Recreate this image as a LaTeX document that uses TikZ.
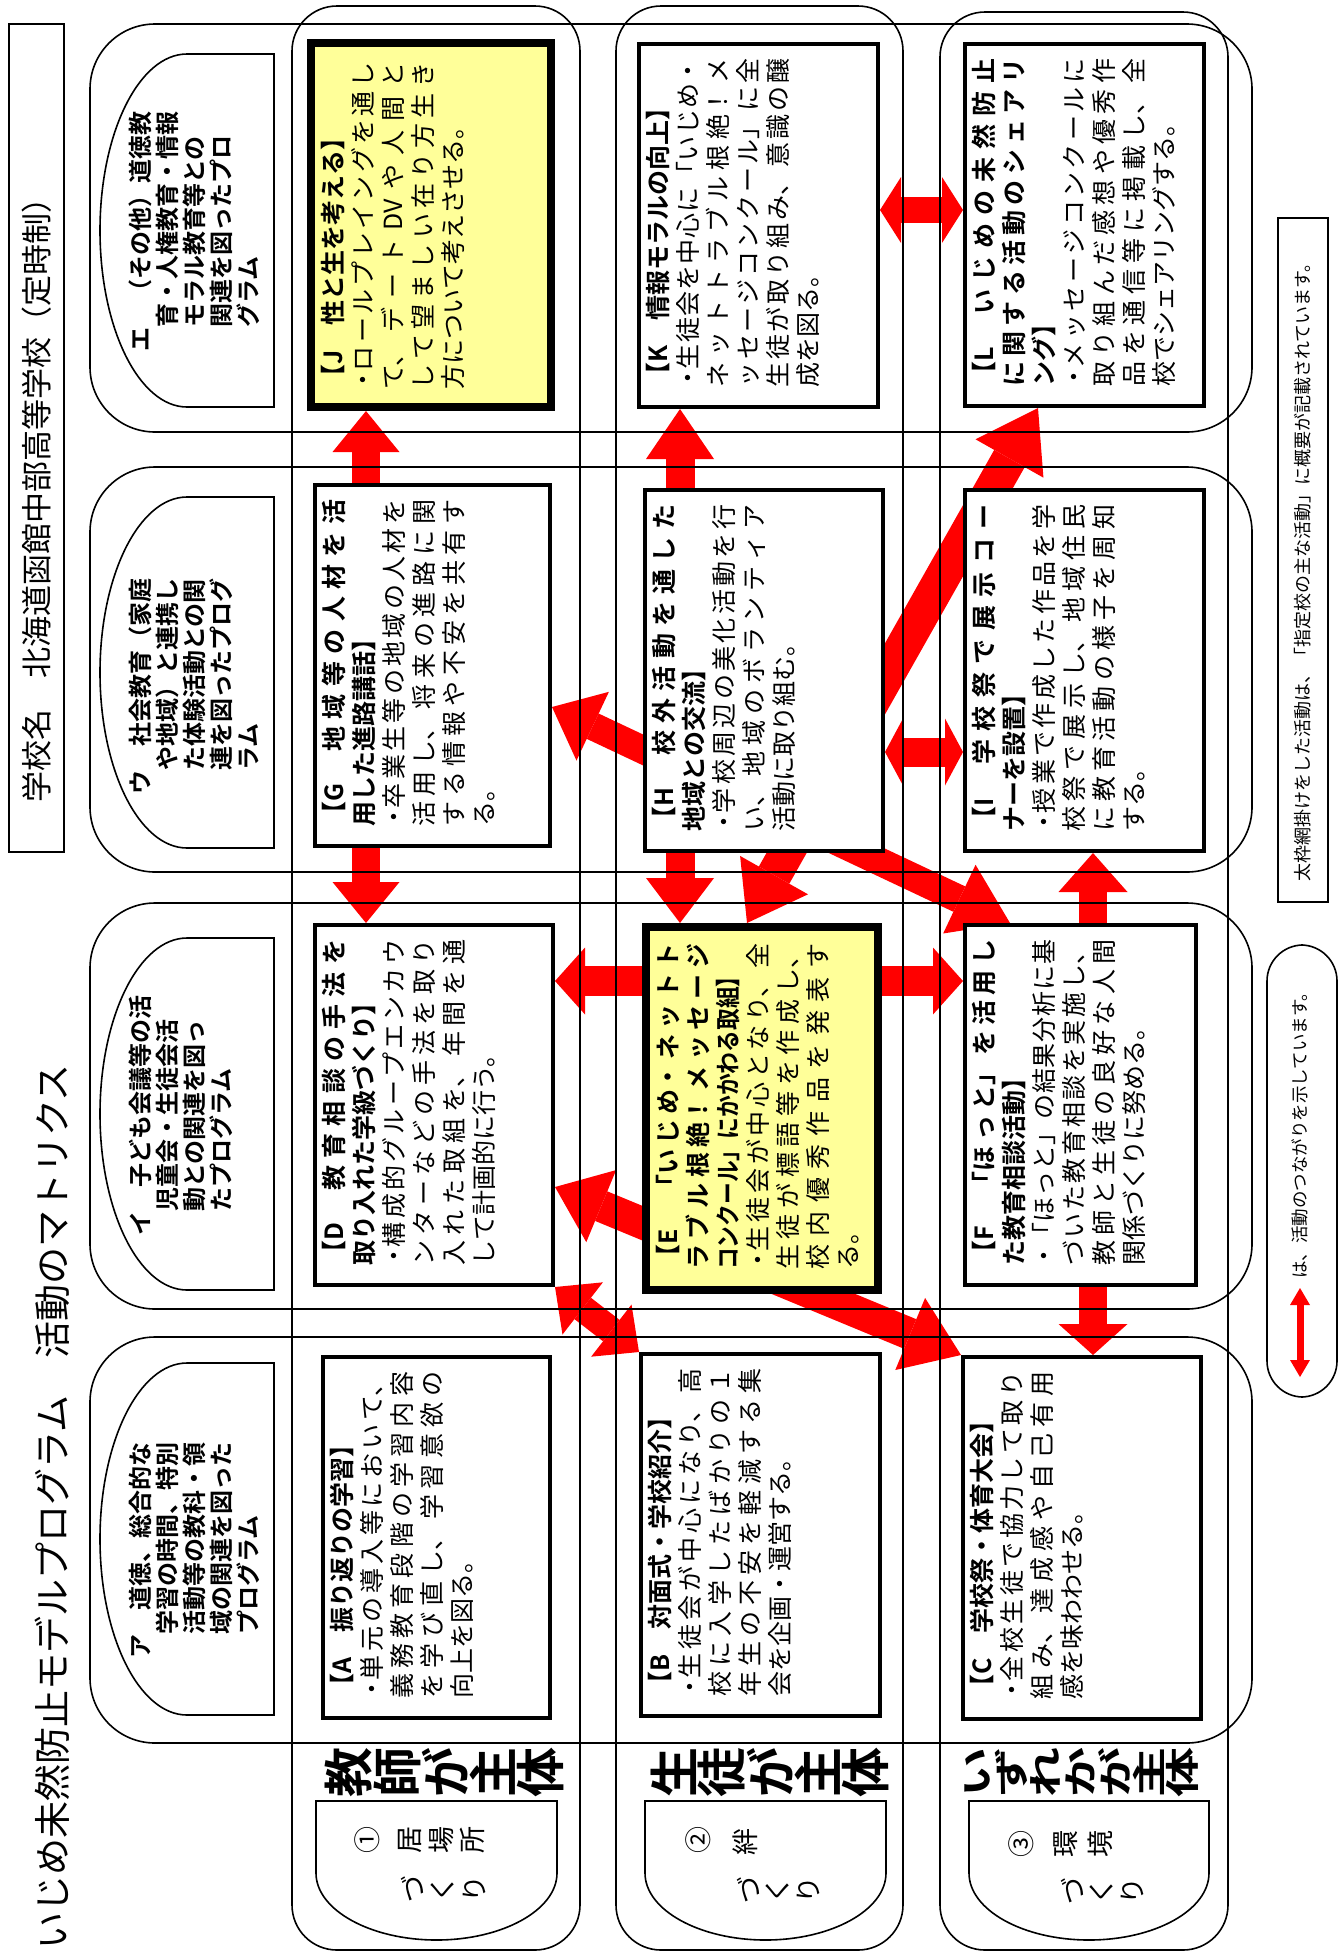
\documentclass[tikz,border=0pt]{standalone}
\usepackage{fontspec}
\usepackage{graphicx}
\setmainfont{Noto Sans CJK JP}[BoldFont={* Bold}]
\usetikzlibrary{arrows.meta}
\definecolor{keyyellow}{RGB}{255,255,153}
\pgfdeclarelayer{back}
\pgfdeclarelayer{front}
\pgfsetlayers{back,main,front}
\XeTeXlinebreaklocale "ja"
\XeTeXlinebreakskip=0pt plus 1fil
\newcommand{\actbullet}{\hangindent=0.75em\hangafter=1\makebox[0.75em][c]{・}}

\tikzset{
  outline/.style={line width=1.6pt},
  actbox/.style={draw, line width=4pt, fill=white, inner sep=0pt},
  keybox/.style={actbox, line width=8pt, fill=keyyellow},
  acttext/.style={rotate=90, anchor=north west, inner sep=0pt, align=justify, text width=#1pt,
    font=\fontsize{25}{30}\selectfont,
    execute at begin node={\parindent=0pt\parfillskip=0pt plus 1fill\relax}},
  progtext/.style={rotate=90, anchor=north west, inner sep=0pt, align=left,
    font=\fontsize{24}{27}\selectfont\bfseries},
  headtext/.style={rotate=90, inner sep=0pt, font=\fontsize{50}{50}\selectfont\bfseries},
  labtext/.style={rotate=90, inner sep=0pt, font=\fontsize{27}{27}\selectfont},
  link/.style n args={4}{draw=red, line width=#1pt,
    {Triangle[width=#2pt,length=#3pt,line width=0pt]}-{Triangle[width=#2pt,length=#4pt,line width=0pt]}},
}

\begin{document}
\begin{tikzpicture}[x=1pt, y=-1pt]
\useasboundingbox (0,0) rectangle (1341,1952);

% title and school name
\node[rotate=90, anchor=west, inner sep=0pt, font=\fontsize{37}{37}\selectfont] (title) at (52,1950) {いじめ未然防止モデルプログラム　活動のマトリクス};
\node[draw, outline, minimum width=55pt, minimum height=828pt] (schoolbox) at (36.5,438) {};
\node[rotate=90, anchor=west, inner sep=0pt, font=\fontsize{31}{31}\selectfont] (school) at (37,803) {学校名　北海道函館中部高等学校（定時制）};

% program labels
\foreach \t/\b in {54/407, 497/848, 938/1290, 1363/1715} {
  \pgfmathsetmacro{\m}{(\t+\b)/2}
  \pgfmathsetmacro{\k}{0.5523*(\b-\t)/2}
  \draw[outline] (274,\t) -- (187,\t) .. controls (139,\t) and (100,{\m-\k}) .. (100,\m)
    .. controls (100,{\m+\k}) and (139,\b) .. (187,\b) -- (274,\b) -- cycle;
}
\node[progtext] (progE) at (129,352) {エ　（その他）道徳教\\　育・人権教育・情報\\　モラル教育等との\\　関連を図ったプロ\\　グラム};
\node[progtext] (progU) at (129,795) {ウ　社会教育（家庭\\　や地域）と連携し\\　た体験活動との関\\　連を図ったプログ\\　ラム};
\node[progtext] (progI) at (129,1236) {イ　子ども会議等の活\\　児童会・生徒会活\\　動との関連を図っ\\　たプログラム};
\node[progtext] (progA) at (129,1659) {ア　道徳、総合的な\\　学習の時間、特別\\　活動等の教科・領\\　域の関連を図った\\　プログラム};

% activity boxes
\node[keybox, minimum width=240pt, minimum height=364pt] (boxJ) at (431,225) {};
\node[actbox, minimum width=239pt, minimum height=363pt] (boxK) at (758.5,225.5) {};
\node[actbox, minimum width=239pt, minimum height=362pt] (boxL) at (1084.5,225) {};
\node[actbox, minimum width=235pt, minimum height=361pt] (boxG) at (432.5,665.5) {};
\node[actbox, minimum width=238pt, minimum height=361pt] (boxH) at (764,670.5) {};
\node[actbox, minimum width=239pt, minimum height=361pt] (boxI) at (1084.5,670.5) {};
\node[actbox, minimum width=238pt, minimum height=360pt] (boxD) at (434,1105) {};
\node[keybox, minimum width=232pt, minimum height=363pt] (boxE) at (762,1108.5) {};
\node[actbox, minimum width=231pt, minimum height=360pt] (boxF) at (1080.5,1105) {};
\node[actbox, minimum width=227pt, minimum height=361pt] (boxA) at (436.5,1537.5) {};
\node[actbox, minimum width=239pt, minimum height=362pt] (boxB) at (760.5,1535) {};
\node[actbox, minimum width=238pt, minimum height=362pt] (boxC) at (1082,1538) {};

\node[acttext=327] (txtJ) at ([xshift=14pt,yshift=21pt]boxJ.south west) {\textbf{【J　性と生を考える】}\par\actbullet ロールプレイングを通し\linebreak て、デートDVや人間と\linebreak して望ましい在り方生き\linebreak 方について考えさせる。};
\node[acttext=329] (txtK) at ([xshift=9pt,yshift=21pt]boxK.south west) {\textbf{【K　情報モラルの向上】}\par\actbullet 生徒会を中心に「いじめ・\linebreak ネットトラブル根絶！メ\linebreak ッセージコンクール」に全\linebreak 生徒が取り組み、意識の醸\linebreak 成を図る。};
\node[acttext=328] (txtL) at ([xshift=9pt,yshift=21pt]boxL.south west) {\textbf{【L　いじめの未然防止\linebreak に関する活動のシェアリ\linebreak ング】}\par\actbullet メッセージコンクールに\linebreak 取り組んだ感想や優秀作\linebreak 品を通信等に掲載し、全\linebreak 校でシェアリングする。};
\node[acttext=327] (txtG) at ([xshift=9pt,yshift=21pt]boxG.south west) {\textbf{【G　地域等の人材を活\linebreak 用した進路講話】}\par\actbullet 卒業生等の地域の人材を\linebreak 活用し、将来の進路に関\linebreak する情報や不安を共有す\linebreak る。};
\node[acttext=327] (txtH) at ([xshift=9pt,yshift=21pt]boxH.south west) {\textbf{【H　校外活動を通した\linebreak 地域との交流】}\par\actbullet 学校周辺の美化活動を行\linebreak い、地域のボランティア\linebreak 活動に取り組む。};
\node[acttext=327] (txtI) at ([xshift=9pt,yshift=21pt]boxI.south west) {\textbf{【I　学校祭で展示コー\linebreak ナーを設置】}\par\actbullet 授業で作成した作品を学\linebreak 校祭で展示し、地域住民\linebreak に教育活動の様子を周知\linebreak する。};
\node[acttext=326] (txtD) at ([xshift=9pt,yshift=21pt]boxD.south west) {\textbf{【D　教育相談の手法を\linebreak 取り入れた学級づくり】}\par\actbullet 構成的グループエンカウ\linebreak ンターなどの手法を取り\linebreak 入れた取組を、年間を通\linebreak して計画的に行う。};
\node[acttext=326] (txtE) at ([xshift=14pt,yshift=24pt]boxE.south west) {\textbf{【E　「いじめ・ネットト\linebreak ラブル根絶！メッセージ\linebreak \scalebox{0.87}[1]{コンクール」にかかわる取組】}}\par\actbullet 生徒会が中心となり、全\linebreak 生徒が標語等を作成し、\linebreak 校内優秀作品を発表す\linebreak る。};
\node[acttext=326] (txtF) at ([xshift=9pt,yshift=21pt]boxF.south west) {\textbf{【F　「ほっと」を活用し\linebreak た教育相談活動】}\par\actbullet 「ほっと」の結果分析に基\linebreak づいた教育相談を実施し、\linebreak 教師と生徒の良好な人間\linebreak 関係づくりに努める。};
\node[acttext=327] (txtA) at ([xshift=9pt,yshift=21pt]boxA.south west) {\textbf{【A　振り返りの学習】}\par\actbullet 単元の導入等において、\linebreak 義務教育段階の学習内容\linebreak を学び直し、学習意欲の\linebreak 向上を図る。};
\node[acttext=328] (txtB) at ([xshift=9pt,yshift=21pt]boxB.south west) {\textbf{【B　対面式・学校紹介】}\par\actbullet 生徒会が中心になり、高\linebreak 校に入学したばかりの１\linebreak 年生の不安を軽減する集\linebreak 会を企画・運営する。};
\node[acttext=328] (txtC) at ([xshift=9pt,yshift=21pt]boxC.south west) {\textbf{【C　学校祭・体育大会】}\par\actbullet 全校生徒で協力して取り\linebreak 組み、達成感や自己有用\linebreak 感を味わわせる。};

% connections between activities
\begin{pgfonlayer}{back}
\draw[link={28}{67}{41}{41}] ([xshift=-65pt]boxJ.south) -- ([xshift=-68pt]boxD.north);
\draw[link={29}{68}{50}{45}] ([xshift=-78.5pt]boxK.south) -- ([xshift=-82pt]boxE.north);
\draw[link={26}{66}{21}{21}] ([yshift=15.5pt]boxK.east) -- ([yshift=15pt]boxL.west);
\draw[link={35}{78}{55}{58}] ([xshift=-15pt]boxE.north) -- ([xshift=-46.5pt]boxL.south);
\draw[link={29}{67}{18}{18}] ([yshift=-81.5pt]boxH.east) -- ([yshift=-81.5pt]boxI.west);
\draw[link={28}{76}{45}{56}] ([yshift=-41.5pt]boxG.east) -- ([xshift=-70.5pt]boxF.north);
\draw[link={30}{67}{30}{30}] ([yshift=124pt]boxD.east) -- ([yshift=124pt]boxF.west);
\draw[link={32}{78}{50}{55}] ([yshift=-82pt]boxD.east) -- (boxC.north west);
\draw[link={27}{66}{35}{35}] (boxD.south east) -- (boxB.north west);
\draw[link={28}{69}{39}{31}] ([xshift=8.5pt]boxI.south) -- ([xshift=11pt]boxC.north);
\end{pgfonlayer}

% subject headers and labels
\foreach \ch [count=\i from 0] in {教,師,が,主,体}
  \node[headtext] (headT\i) at ({349+48*\i},1772) {\ch};
\foreach \ch [count=\i from 0] in {生,徒,が,主,体}
  \node[headtext] (headS\i) at ({674+48*\i},1772) {\ch};
\foreach \ch [count=\i from 0] in {い,ず,れ,か,が,主,体}
  \node[headtext] (headX\i) at ({977+34.3*\i},1772) {\scalebox{1}[0.69]{\ch}};
\foreach \l/\r in {316/557, 645/886, 969/1209} {
  \pgfmathsetmacro{\c}{(\l+\r)/2}
  \draw[outline] (\l,1873) -- (\l,1801) -- (\r,1801) -- (\r,1873)
    .. controls (\r,1910) and ({\c+66},1940) .. (\c,1940)
    .. controls ({\c-66},1940) and (\l,1910) .. cycle;
}
\foreach \ch/\px/\py [count=\i] in {①/367/1840, 居/410/1840, 場/441/1840, 所/472/1840, づ/412/1889, く/443/1889, り/474/1889}
  \node[labtext] (labT\i) at (\px,\py) {\ch};
\foreach \ch/\px/\py [count=\i] in {②/698/1840, 絆/745/1842, づ/748/1890, く/778/1890, り/808/1890}
  \node[labtext] (labS\i) at (\px,\py) {\ch};
\foreach \ch/\px/\py [count=\i] in {③/1021/1844, 環/1066/1844, 境/1100/1844, づ/1072/1891, く/1102/1891, り/1132/1891}
  \node[labtext] (labX\i) at (\px,\py) {\ch};

% notes
\node[draw, outline, minimum width=50pt, minimum height=684pt] (notebox) at (1303,560) {};
\node[rotate=90, anchor=west, inner sep=0pt, font=\fontsize{18}{18}\selectfont] (note) at (1303,882) {太枠網掛けをした活動は、「指定校の主な活動」に概要が記載されています。};
\node[draw, outline, rounded corners=36pt, minimum width=70pt, minimum height=452pt] (legendbox) at (1302,1171) {};
\node[rotate=90, anchor=west, inner sep=0pt, font=\fontsize{17.5}{17.5}\selectfont] (legend) at (1300,1279) {は、活動のつながりを示しています。};
\coordinate (legA) at (1300,1288);
\coordinate (legB) at (1300,1377);
\draw[link={7}{20}{17}{17}] (legA) -- (legB);

% frames of the matrix
\begin{pgfonlayer}{front}
\foreach \t/\b in {24/432, 467/872, 903/1309, 1337/1743}
  \draw[outline, rounded corners=65pt] (90,\t) rectangle (1252,\b);
\draw[outline, rounded corners=45pt] (292,6) rectangle (580,1950);
\draw[outline, rounded corners=45pt] (616,6) rectangle (903,1950);
\draw[outline, rounded corners=45pt] (940,12) rectangle (1228,1950);
\end{pgfonlayer}
\end{tikzpicture}
\end{document}
